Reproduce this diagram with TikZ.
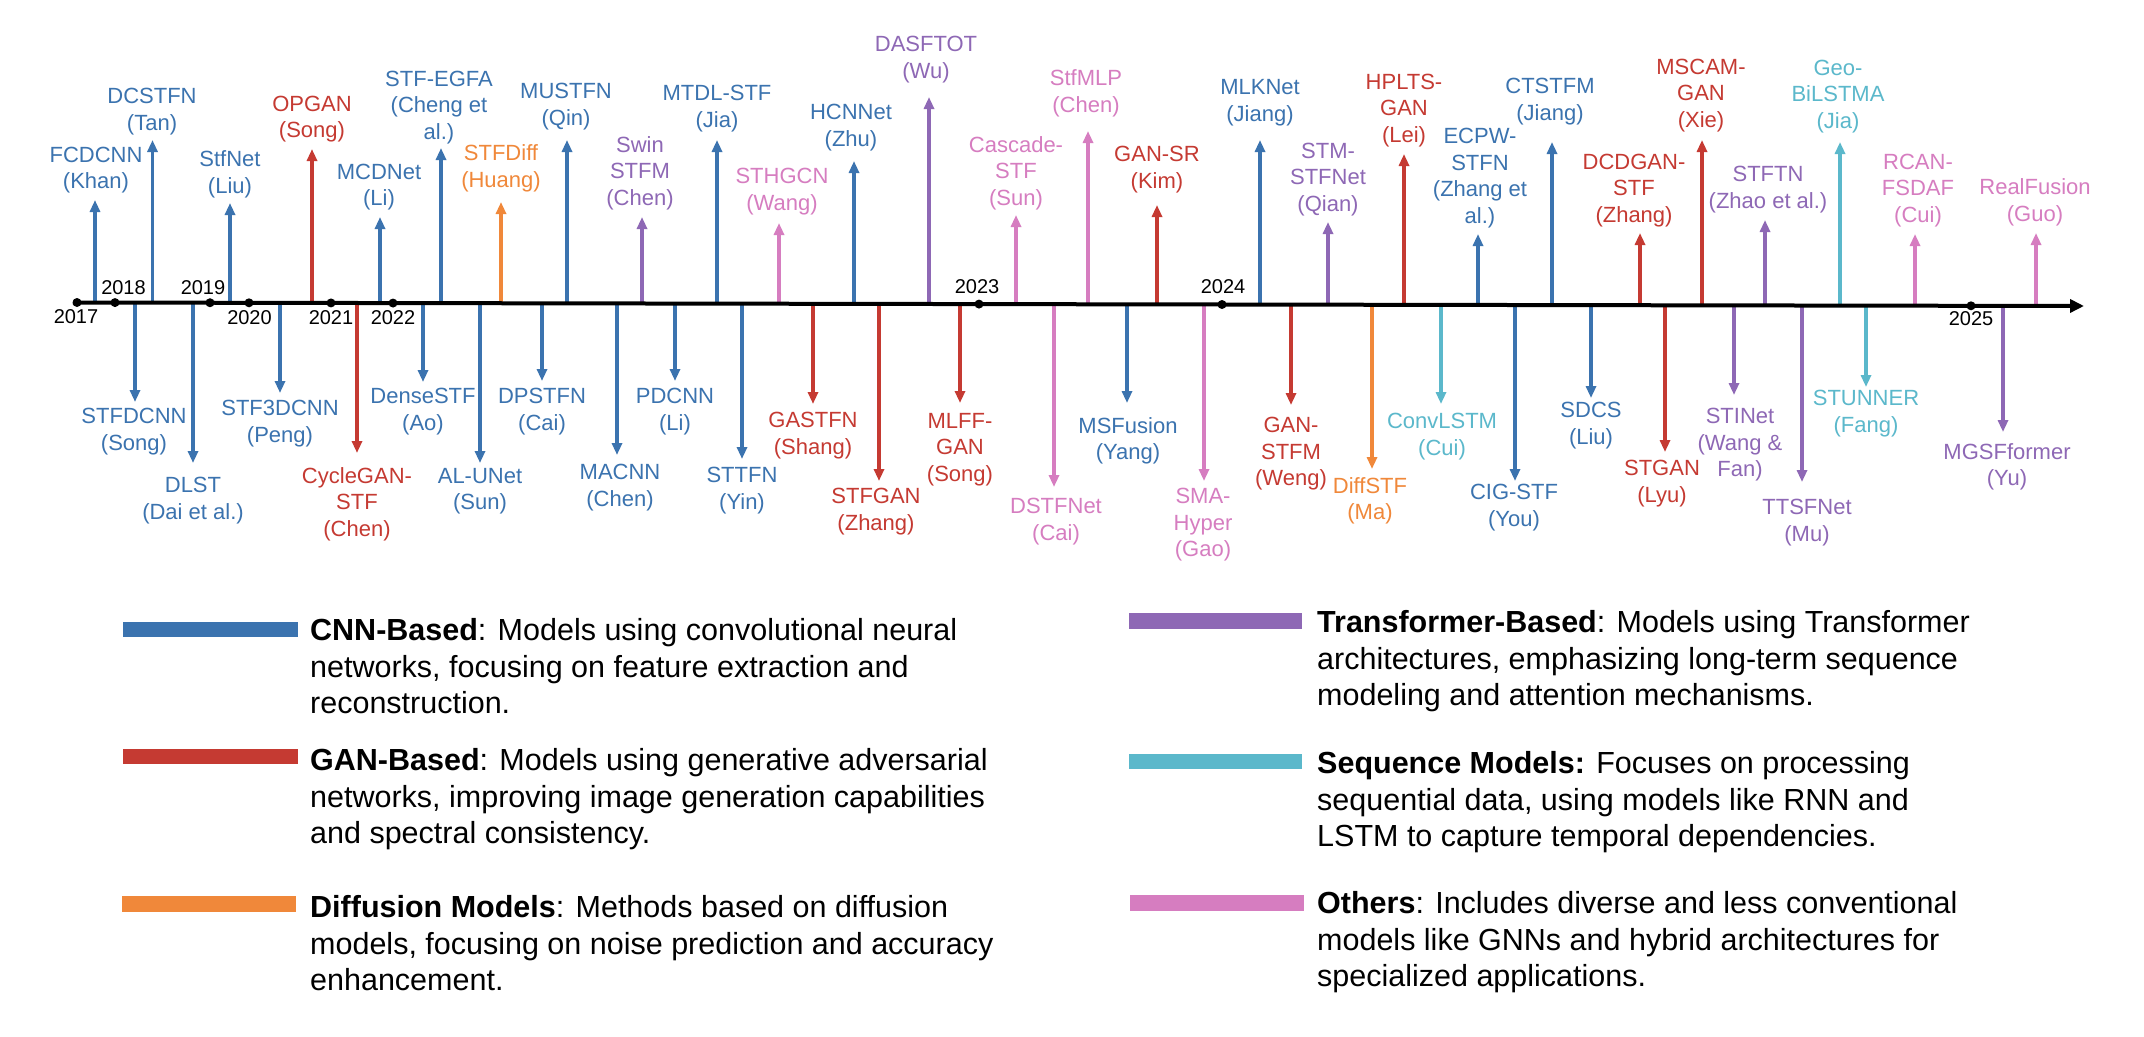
\documentclass[tikz,border=0pt]{standalone}
\usepackage{fontspec}
\setmainfont{Liberation Sans}
\usetikzlibrary{arrows.meta}
\definecolor{cnn}{RGB}{59,115,175}
\definecolor{gan}{RGB}{197,58,50}
\definecolor{dif}{RGB}{240,136,58}
\definecolor{trf}{RGB}{142,104,181}
\definecolor{seq}{RGB}{91,184,203}
\definecolor{oth}{RGB}{214,125,192}
\tikzset{
  lab/.style={inner sep=0pt,align=center,font=\fontsize{22}{26.5}\selectfont},
  yearlab/.style={inner sep=0pt,font=\fontsize{20}{22}\selectfont},
  conn/.style={line width=3.3pt,-{Triangle[width=10pt,length=12pt]}},
  axisline/.style={line width=4pt,-{Triangle[width=13pt,length=14pt]}},
  yeardot/.style={circle,fill=black,inner sep=0pt,minimum size=9pt},
  legbar/.style={inner sep=0pt},
  legtext/.style={inner sep=0pt,align=left,anchor=north west,font=\fontsize{30.5}{36.8}\selectfont}
}
\newcommand\upmodel[7]{%
  \coordinate (#1b) at ({#2},{302.5+0.00174*(#2-73)});
  \coordinate (#1t) at (#2,#4);
  \node[lab,text=#6,anchor=south] (#1) at (#3,#5) {#7};
  \draw[conn,#6] (#1b) -- (#1t);
}
\newcommand\downmodel[7]{%
  \coordinate (#1b) at ({#2},{302.5+0.00174*(#2-73)});
  \coordinate (#1t) at (#2,#4);
  \node[lab,text=#6,anchor=north] (#1) at (#3,#5) {#7};
  \draw[conn,#6] (#1b) -- (#1t);
}
\newcommand\yearmark[5]{%
  \node[yeardot] (#1) at ({#2},{302.5+0.00174*(#2-73)}) {};
  \node[yearlab] (#1l) at (#3,#4) {#5};
}
\begin{document}
\begin{tikzpicture}[x=1pt,y=-1pt]
\fill[white] (0,0) rectangle (2144,1036);
\useasboundingbox (0,0) rectangle (2144,1036);

% ---- up arrows ----
\upmodel{u1}{95}{96}{200}{193.5}{cnn}{FCDCNN\\(Khan)}
\upmodel{u2}{152.5}{152}{140}{135}{cnn}{DCSTFN\\(Tan)}
\upmodel{u3}{230}{230}{203}{198}{cnn}{StfNet\\(Liu)}
\upmodel{u4}{312}{312}{149}{142.5}{gan}{OPGAN\\(Song)}
\upmodel{u5}{380}{379}{217}{210.5}{cnn}{MCDNet\\(Li)}
\upmodel{u6}{441}{439}{148}{144}{cnn}{STF-EGFA\\(Cheng et\\al.)}
\upmodel{u7}{501}{501}{202}{192}{dif}{STFDiff\\(Huang)}
\upmodel{u8}{567}{566}{140}{130}{cnn}{MUSTFN\\(Qin)}
\upmodel{u9}{642}{640}{217}{210}{trf}{Swin\\STFM\\(Chen)}
\upmodel{u10}{717}{717}{140}{132}{cnn}{MTDL-STF\\(Jia)}
\upmodel{u11}{779}{782}{223}{215}{oth}{STHGCN\\(Wang)}
\upmodel{u12}{854}{851}{161}{151}{cnn}{HCNNet\\(Zhu)}
\upmodel{u13}{929}{926}{97}{83}{trf}{DASFTOT\\(Wu)}
\upmodel{u14}{1016}{1016}{215}{210}{oth}{Cascade-\\STF\\(Sun)}
\upmodel{u15}{1088}{1086}{131}{117}{oth}{StfMLP\\(Chen)}
\upmodel{u16}{1157}{1157}{205}{193}{gan}{GAN-SR\\(Kim)}
\upmodel{u17}{1260}{1260}{140}{126}{cnn}{MLKNet\\(Jiang)}
\upmodel{u18}{1328}{1328}{222}{216}{trf}{STM-\\STFNet\\(Qian)}
\upmodel{u19}{1404}{1404}{154}{147}{gan}{HPLTS-\\GAN\\(Lei)}
\upmodel{u20}{1478}{1480}{234}{228}{cnn}{ECPW-\\STFN\\(Zhang et\\al.)}
\upmodel{u21}{1552}{1550}{142}{125}{cnn}{CTSTFM\\(Jiang)}
\upmodel{u22}{1640}{1634}{233}{227}{gan}{DCDGAN-\\STF\\(Zhang)}
\upmodel{u23}{1702}{1701}{140}{132}{gan}{MSCAM-\\GAN\\(Xie)}
\upmodel{u24}{1765}{1768}{220}{213}{trf}{STFTN\\(Zhao et al.)}
\upmodel{u25}{1840}{1838}{142}{133}{seq}{Geo-\\BiLSTMA\\(Jia)}
\upmodel{u26}{1915}{1918}{234}{227}{oth}{RCAN-\\FSDAF\\(Cui)}
\upmodel{u27}{2036}{2035}{233}{226}{oth}{RealFusion\\(Guo)}

% ---- down arrows ----
\downmodel{d1}{135}{134}{402}{408}{cnn}{STFDCNN\\(Song)}
\downmodel{d2}{193}{193}{463}{477}{cnn}{DLST\\(Dai et al.)}
\downmodel{d3}{280}{280}{393}{400}{cnn}{STF3DCNN\\(Peng)}
\downmodel{d4}{357}{357}{453}{467}{gan}{CycleGAN-\\STF\\(Chen)}
\downmodel{d5}{423}{423}{382}{388}{cnn}{DenseSTF\\(Ao)}
\downmodel{d6}{480}{480}{463}{468}{cnn}{AL-UNet\\(Sun)}
\downmodel{d7}{542}{542}{381}{388}{cnn}{DPSTFN\\(Cai)}
\downmodel{d8}{617}{620}{455}{464}{cnn}{MACNN\\(Chen)}
\downmodel{d9}{675}{675}{381}{388}{cnn}{PDCNN\\(Li)}
\downmodel{d10}{742}{742}{459}{467}{cnn}{STTFN\\(Yin)}
\downmodel{d11}{813}{813}{404}{412}{gan}{GASTFN\\(Shang)}
\downmodel{d12}{879}{876}{481}{488}{gan}{STFGAN\\(Zhang)}
\downmodel{d13}{960}{960}{403}{413}{gan}{MLFF-\\GAN\\(Song)}
\downmodel{d14}{1054}{1056}{487}{498}{oth}{DSTFNet\\(Cai)}
\downmodel{d15}{1127}{1128}{403}{417}{cnn}{MSFusion\\(Yang)}
\downmodel{d16}{1204}{1203}{481}{488}{oth}{SMA-\\Hyper\\(Gao)}
\downmodel{d17}{1291}{1291}{405}{417}{gan}{GAN-\\STFM\\(Weng)}
\downmodel{d18}{1372}{1370}{469}{477}{dif}{DiffSTF\\(Ma)}
\downmodel{d19}{1441}{1442}{404}{413}{seq}{ConvLSTM\\(Cui)}
\downmodel{d20}{1515}{1514}{481}{484}{cnn}{CIG-STF\\(You)}
\downmodel{d21}{1591}{1591}{398}{402}{cnn}{SDCS\\(Liu)}
\downmodel{d22}{1665}{1662}{452}{460}{gan}{STGAN\\(Lyu)}
\downmodel{d23}{1734}{1740}{395}{408}{trf}{STINet\\(Wang \&\\Fan)}
\downmodel{d24}{1802}{1807}{482}{499}{trf}{TTSFNet\\(Mu)}
\downmodel{d25}{1866}{1866}{387}{390}{seq}{STUNNER\\(Fang)}
\downmodel{d26}{2003}{2007}{432}{443}{trf}{MGSFformer\\(Yu)}

% ---- axis ----
\coordinate (axstart) at (73,302.5);
\coordinate (axend) at (2084,306);
\draw[axisline] (axstart) -- (axend);

% ---- years ----
\yearmark{y2017}{77}{76}{317}{2017}
\yearmark{y2018}{115}{123.5}{288}{2018}
\yearmark{y2019}{210}{203}{288}{2019}
\yearmark{y2020}{249}{249.5}{318}{2020}
\yearmark{y2021}{331}{331}{318}{2021}
\yearmark{y2022}{393}{393}{318}{2022}
\yearmark{y2023}{979}{977}{287}{2023}
\yearmark{y2024}{1222}{1223}{287}{2024}
\yearmark{y2025}{1971}{1971}{319}{2025}

% ---- legend ----
\fill[cnn] (123,622) rectangle (298,637);
\fill[gan] (123,749) rectangle (298,764);
\fill[dif] (122,896) rectangle (296,912);
\fill[trf] (1129,613) rectangle (1302,629);
\fill[seq] (1129,754) rectangle (1302,769);
\fill[oth] (1130,895) rectangle (1304,911);

\node[legtext] (lcnn) at (310,618) {\textbf{CNN-Based}: Models using convolutional neural\\networks, focusing on feature extraction and\\reconstruction.};
\node[legtext] (lgan) at (310,748) {\textbf{GAN-Based}: Models using generative adversarial\\networks, improving image generation capabilities\\and spectral consistency.};
\node[legtext] (ldif) at (310,895) {\textbf{Diffusion Models}: Methods based on diffusion\\models, focusing on noise prediction and accuracy\\enhancement.};
\node[legtext] (ltrf) at (1317,610) {\textbf{Transformer-Based}: Models using Transformer\\architectures, emphasizing long-term sequence\\modeling and attention mechanisms.};
\node[legtext] (lseq) at (1317,751) {\textbf{Sequence Models:} Focuses on processing\\sequential data, using models like RNN and\\LSTM to capture temporal dependencies.};
\node[legtext] (loth) at (1317,891) {\textbf{Others}: Includes diverse and less conventional\\models like GNNs and hybrid architectures for\\specialized applications.};
\end{tikzpicture}
\end{document}
